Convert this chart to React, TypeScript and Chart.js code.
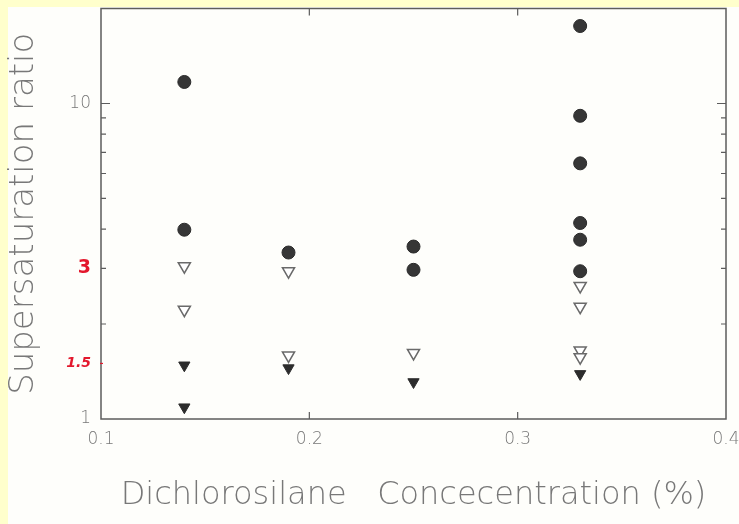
import React, { useEffect, useRef } from "react";
import { Chart, registerables } from "chart.js";

Chart.register(...registerables);

// Filled circles
const xCircles = [0.14, 0.14, 0.19, 0.25, 0.25, 0.33, 0.33, 0.33, 0.33, 0.33, 0.33];
const yCircles = [11.7, 3.98, 3.37, 3.52, 2.97, 17.6, 9.14, 6.46, 4.18, 3.7, 2.94];
// Open down-triangles
const xOpen = [0.14, 0.14, 0.19, 0.19, 0.25, 0.33, 0.33, 0.33, 0.33];
const yOpen = [3.05, 2.22, 2.94, 1.59, 1.62, 2.64, 2.27, 1.65, 1.57];
// Filled down-triangles
const xFilled = [0.14, 0.14, 0.19, 0.25, 0.33];
const yFilled = [1.48, 1.09, 1.45, 1.31, 1.39];

const xTicks = [0.1, 0.2, 0.3, 0.4];
const yMarkTicks = [2, 3, 4, 5, 6, 7, 8, 9, 10];
const yLabelValues = [1, 1.5, 3, 10];
const yLabelTexts = ["1", "1.5", "3", "10"];
const redLabels = ["3", "1.5"];

const xTitle = "Dichlorosilane   Concecentration (%)";
const yTitle = "Supersaturation ratio";

const FONT = "'DejaVu Sans', sans-serif";
const GRAY = "#787878";
const RED = "#e3182d";

const toPts = (xs: number[], ys: number[]) => xs.map((x, i) => ({ x, y: ys[i] }));

const framePlugin = {
  id: "frame",
  afterDraw(chart: any) {
    const { ctx, chartArea: a, scales } = chart;
    ctx.save();
    ctx.strokeStyle = "#5c5c5c";
    ctx.lineWidth = 1.5;
    ctx.strokeRect(a.left, a.top, a.right - a.left, a.bottom - a.top);
    ctx.lineWidth = 1.2;
    ctx.beginPath();
    xTicks.slice(1, -1).forEach((v) => {
      const px = scales.x.getPixelForValue(v);
      ctx.moveTo(px, a.bottom);
      ctx.lineTo(px, a.bottom - 7);
      ctx.moveTo(px, a.top);
      ctx.lineTo(px, a.top + 7);
    });
    yMarkTicks.forEach((v) => {
      const py = scales.y.getPixelForValue(v);
      const len = v === 10 ? 9 : 5;
      ctx.moveTo(a.left, py);
      ctx.lineTo(a.left + len, py);
      ctx.moveTo(a.right, py);
      ctx.lineTo(a.right - len, py);
    });
    ctx.stroke();
    ctx.strokeStyle = RED;
    ctx.beginPath();
    const p15 = scales.y.getPixelForValue(1.5);
    ctx.moveTo(a.left - 1, p15);
    ctx.lineTo(a.left + 2, p15);
    ctx.stroke();
    ctx.restore();
  },
};

const zeroPad = (s: any) => {
  s.paddingLeft = 0;
  s.paddingRight = 0;
  s.paddingTop = 0;
  s.paddingBottom = 0;
};

export default function App() {
  const ref = useRef<HTMLCanvasElement>(null);

  useEffect(() => {
    if (!ref.current) return;
    const chart = new Chart(ref.current, {
      type: "scatter",
      data: {
        datasets: [
          {
            data: toPts(xCircles, yCircles),
            pointStyle: "circle",
            pointRadius: 6.5,
            backgroundColor: "#363636",
            borderColor: "#2a2a2a",
            borderWidth: 1,
          },
          {
            data: toPts(xOpen, yOpen),
            pointStyle: "triangle",
            pointRotation: 180,
            pointRadius: 7,
            backgroundColor: "#ffffff",
            borderColor: "#6a6a6a",
            borderWidth: 1.5,
          },
          {
            data: toPts(xFilled, yFilled),
            pointStyle: "triangle",
            pointRotation: 180,
            pointRadius: 6.5,
            backgroundColor: "#2c2c2c",
            borderColor: "#2c2c2c",
            borderWidth: 1,
          },
        ],
      },
      options: {
        responsive: false,
        animation: false,
        devicePixelRatio: 1,
        layout: { padding: { top: 7, right: 13, left: 0, bottom: 0 } },
        plugins: { legend: { display: false }, tooltip: { enabled: false } },
        scales: {
          x: {
            type: "linear",
            min: 0.1,
            max: 0.4,
            afterFit: (s: any) => {
              s.height = 105;
              zeroPad(s);
            },
            afterBuildTicks: (s: any) => {
              s.ticks = xTicks.map((v) => ({ value: v }));
            },
            grid: { display: false, drawTicks: false },
            border: { display: false },
            ticks: {
              padding: 10,
              color: GRAY,
              font: { family: FONT, size: 17, weight: "200" },
              maxRotation: 0,
              callback: (v: any) => Number(v).toFixed(1),
            },
            title: {
              display: true,
              text: xTitle,
              color: GRAY,
              font: { family: FONT, size: 32, weight: "200" },
              padding: { top: 0, bottom: 9 },
            },
          },
          y: {
            type: "logarithmic",
            min: 1,
            max: 20,
            afterFit: (s: any) => {
              s.width = 101;
              zeroPad(s);
            },
            afterBuildTicks: (s: any) => {
              s.ticks = yLabelValues.map((v) => ({ value: v }));
            },
            grid: { display: false, drawTicks: false },
            border: { display: false },
            ticks: {
              padding: 10,
              autoSkip: false,
              color: (c: any) => (redLabels.includes(yLabelTexts[c.index]) ? RED : GRAY),
              font: (c: any) => {
                const t = yLabelTexts[c.index];
                if (t === "3") return { family: FONT, size: 19, weight: "bold" };
                if (t === "1.5") return { family: FONT, size: 14, style: "italic", weight: "bold" };
                return { family: FONT, size: 17, weight: "200" };
              },
              callback: (_v: any, i: number) => yLabelTexts[i],
            },
            title: {
              display: true,
              text: yTitle,
              color: GRAY,
              font: { family: FONT, size: 34, weight: "200" },
              padding: { top: 4, bottom: 0 },
            },
          },
        },
      },
      plugins: [framePlugin],
    });
    return () => chart.destroy();
  }, []);

  return (
    <div
      style={{
        position: "fixed",
        left: 0,
        top: 0,
        width: 739,
        height: 524,
        background: "#ffffcc",
      }}
    >
      <div
        style={{
          position: "absolute",
          left: 8,
          top: 7,
          right: 0,
          bottom: 0,
          background: "#fefefb",
        }}
      />
      <canvas
        ref={ref}
        width={739}
        height={524}
        style={{ position: "absolute", left: 0, top: 0, width: 739, height: 524 }}
      />
    </div>
  );
}
